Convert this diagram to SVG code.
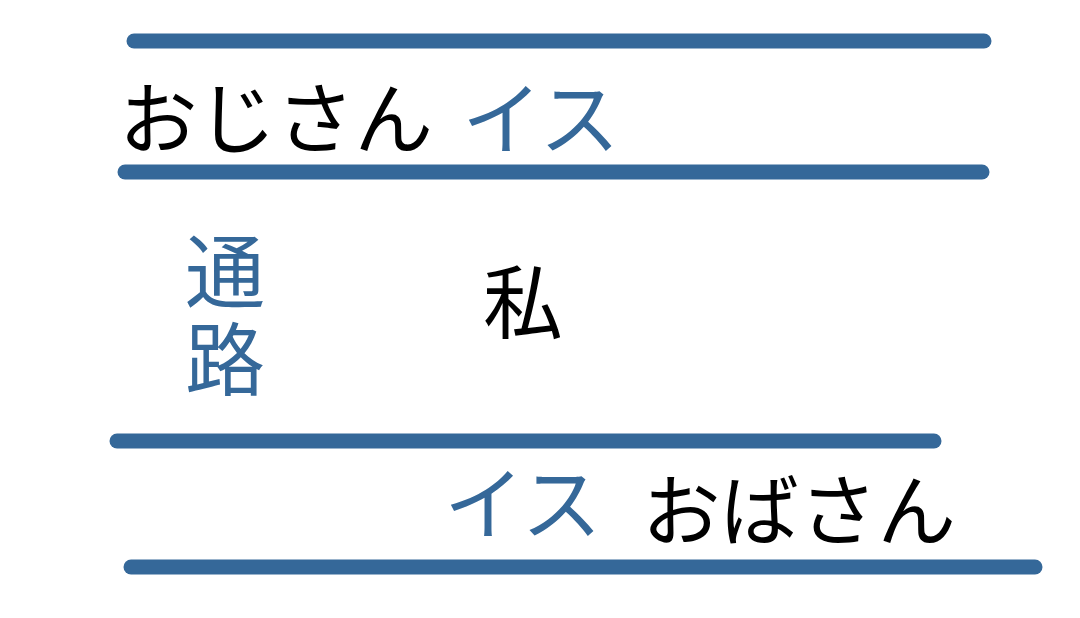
<svg xmlns="http://www.w3.org/2000/svg" width="1080" height="618" viewBox="0 0 1080 618">
<style>
.bar{stroke:#356899;stroke-width:15;stroke-linecap:round;fill:none}
.t{font-family:"Noto Sans CJK JP","Noto Sans CJK SC",sans-serif;font-size:80px}
.kana{font-size:78.5px}
.k{fill:#000}
.b{fill:#356899}
</style>
<rect width="1080" height="618" fill="#fff"/>
<g id="walls">
<line class="bar" x1="134" y1="41" x2="984" y2="41"/>
<line class="bar" x1="125" y1="172" x2="982" y2="172"/>
<line class="bar" x1="117" y1="441" x2="934" y2="441"/>
<line class="bar" x1="131" y1="567" x2="1035" y2="567"/>
</g>
<g id="ojisan"><text class="t kana k" x="119" y="148">おじさん</text></g>
<g id="isu1"><text class="t b" x="462" y="148">イス</text></g>
<g id="tsuro"><text class="t b" x="225" y="231" style="writing-mode:vertical-rl">通<tspan dy="8">路</tspan></text></g>
<g id="watashi"><text class="t k" x="523" y="332" text-anchor="middle">私</text></g>
<g id="isu2"><text class="t b" x="444" y="533">イス</text></g>
<g id="obasan"><text class="t kana k" x="642" y="540">おばさん</text></g>
</svg>
